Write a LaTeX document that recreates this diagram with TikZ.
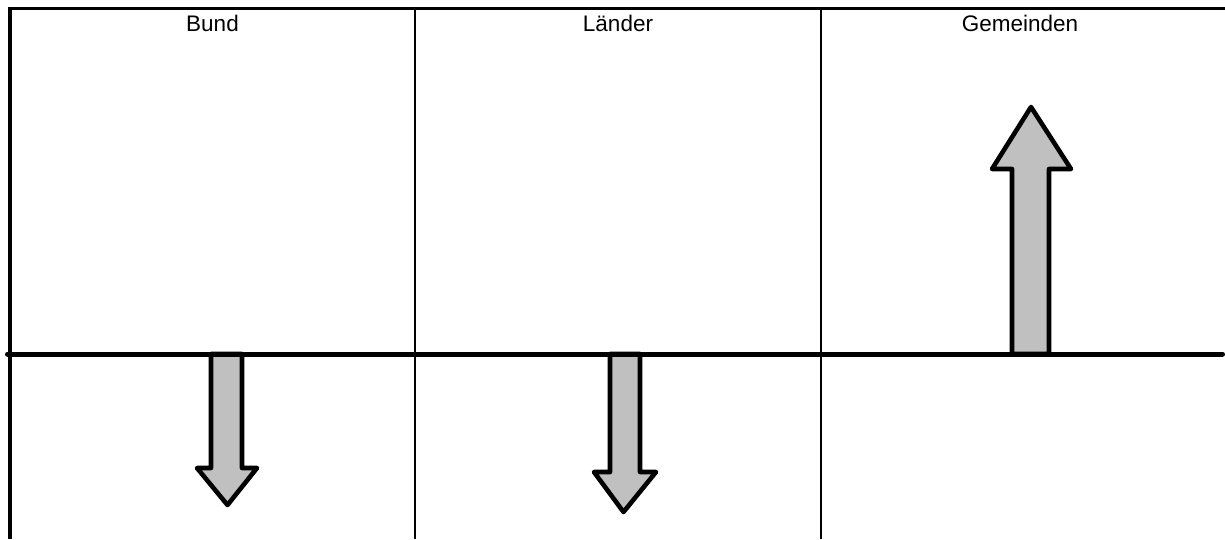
\documentclass[tikz,border=0pt]{standalone}
\usepackage{fontspec}
\setmainfont{Liberation Sans}
\begin{document}
\begin{tikzpicture}[x=1pt,y=-1pt,
  frameline/.style={line width=3.2pt},
  divider/.style={line width=2.6pt},
  baseline/.style={line width=5pt,line cap=round},
  blockarrow/.style={draw=black,fill={rgb,255:red,192;green,192;blue,192},line width=4.6pt,line join=round},
  header/.style={font=\fontsize{22.5}{26}\selectfont,anchor=base,inner sep=0pt}]
\useasboundingbox (0,0) rectangle (1225,539);

% outer frame: top edge and left edge
\draw[frameline] (8.5,8.5) -- (1225,8.5);
\draw[frameline] (10,7) -- (10,539);

% column dividers
\draw[divider] (415,8.5) -- (415,539);
\draw[divider] (821,8.5) -- (821,539);

% column headings
\node[header] (bund) at (212.5,31.5) {Bund};
\node[header] (laender) at (618,31.5) {Länder};
\node[header] (gemeinden) at (1020,31.5) {Gemeinden};

% block arrows
\draw[blockarrow] (211,354) -- (211,468) -- (197,468) -- (227.5,505) -- (257,468) -- (242,468) -- (242,354) -- cycle;
\draw[blockarrow] (610,354) -- (610,472) -- (594,472) -- (623.5,512) -- (656,472) -- (640,472) -- (640,354) -- cycle;
\draw[blockarrow] (1012,354) -- (1012,169) -- (992,169) -- (1031,107) -- (1071,169) -- (1049,169) -- (1049,354) -- cycle;

% horizontal axis
\draw[baseline] (7.5,354) -- (1222.5,354);
\end{tikzpicture}
\end{document}
